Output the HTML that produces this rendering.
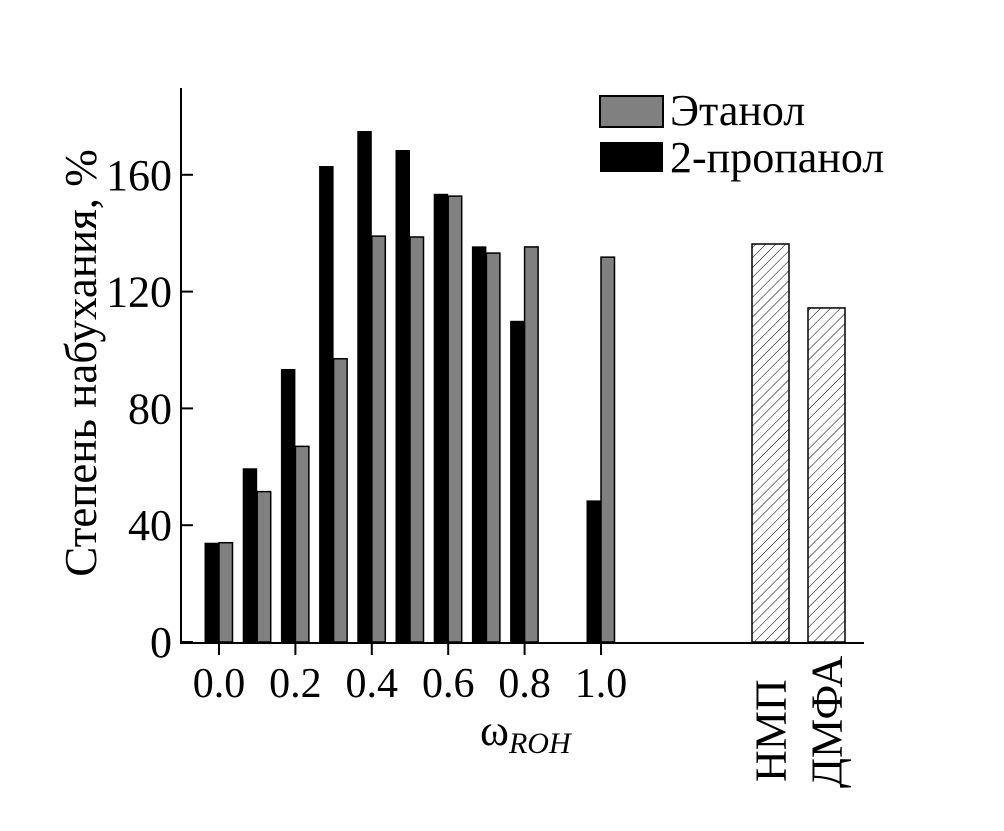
<!DOCTYPE html>
<html><head><meta charset="utf-8"><style>
body{margin:0;background:#fff}
svg text{font-family:"Liberation Serif",serif;fill:#000}
</style></head><body>
<svg id="chart" width="1004" height="826" viewBox="0 0 1004 826" xmlns="http://www.w3.org/2000/svg">
<defs><pattern id="hatch" patternUnits="userSpaceOnUse" width="7" height="7" patternTransform="rotate(45)"><line x1="0" y1="0" x2="0" y2="7" stroke="#000" stroke-width="1"/></pattern></defs>
<g id="marks"></g>
<line x1="181" y1="88" x2="181" y2="643" stroke="#000" stroke-width="2"/>
<line x1="180" y1="643" x2="864" y2="643" stroke="#000" stroke-width="2"/>
<g id="ticks"></g>
<text transform="translate(96,363) rotate(-90)" text-anchor="middle" font-size="45">Степень набухания, %</text>
<text x="480" y="745" font-size="44">ω<tspan font-size="30" font-style="italic" dy="8">ROH</tspan></text>
<rect x="600" y="96" width="63" height="31" fill="#808080" stroke="#000" stroke-width="2"/>
<text x="670" y="125" font-size="44">Этанол</text>
<rect x="600" y="142" width="63" height="30" fill="#000"/>
<text x="670" y="172" font-size="44">2-пропанол</text>
</svg>
<script>
const categories=[0.0,0.1,0.2,0.3,0.4,0.5,0.6,0.7,0.8,1.0];
const propanol=[34,59.5,93.5,163,175,168.5,153.5,135.5,110,48.5];
const ethanol=[34,51.5,67,97,139,138.7,152.7,133.2,135.3,131.8];
const refNames=["НМП","ДМФА"];
const refValues=[136.3,114.4];
const yTicks=[0,40,80,120,160];
const xTicks=["0.0","0.2","0.4","0.6","0.8","1.0"];
const NS="http://www.w3.org/2000/svg";
const y=v=>642-v*2.92;
const x=w=>219+w*382;
const marks=document.getElementById('marks'),ticks=document.getElementById('ticks');
function mk(tag,attrs,parent){const e=document.createElementNS(NS,tag);for(const k in attrs)e.setAttribute(k,attrs[k]);parent.appendChild(e);return e;}
categories.forEach((c,i)=>{
  const cx=x(c);
  const b=mk('rect',{x:cx-14.5,y:y(propanol[i]),width:14.5,height:642-y(propanol[i]),fill:'#000'},marks);
  
  
  const g=mk('rect',{x:cx,y:y(ethanol[i]),width:13.5,height:642-y(ethanol[i]),fill:'#808080',stroke:'#000','stroke-width':1.5},marks);
  
  
});
const refX=[770.5,826.5];
refNames.forEach((n,i)=>{
  const r=mk('rect',{x:refX[i]-18.5,y:y(refValues[i]),width:37,height:642-y(refValues[i]),fill:'url(#hatch)',stroke:'#000','stroke-width':1.5},marks);
  
  
  const t=mk('text',{transform:`translate(${refX[i]+15},${i?788:782}) rotate(-90)`,'font-size':44},ticks);
  t.textContent=n;
  
  
});
yTicks.forEach(v=>{
  const l=mk('line',{x1:181,x2:193,y1:y(v),y2:y(v),stroke:'#000','stroke-width':2},ticks);
  
  
  const t=mk('text',{x:172,y:y(v)+15,'text-anchor':'end','font-size':44},ticks);
  t.textContent=v;
  
  
});
xTicks.forEach(s=>{
  const v=parseFloat(s);
  const l=mk('line',{x1:x(v),x2:x(v),y1:643,y2:655,stroke:'#000','stroke-width':2},ticks);
  
  
  const t=mk('text',{x:x(v),y:697,'text-anchor':'middle','font-size':42},ticks);
  t.textContent=s;
  
  
});
</script>
</body></html>
